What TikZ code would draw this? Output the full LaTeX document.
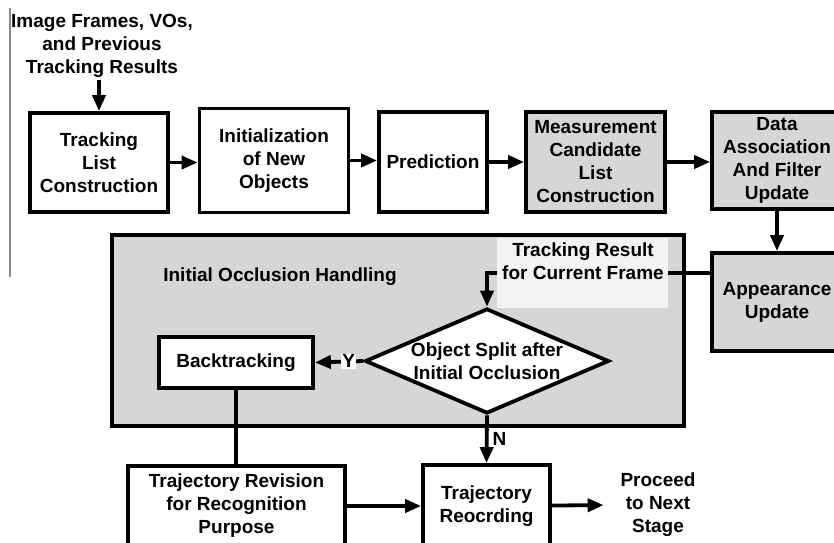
\documentclass[tikz,border=0pt]{standalone}
\usepackage{fontspec}
\setmainfont{Liberation Sans}
\usetikzlibrary{arrows.meta,shapes.geometric}
\definecolor{cbox}{HTML}{D6D6D6}
\definecolor{cres}{HTML}{F3F3F3}
\definecolor{cedge}{HTML}{8A8A8A}

\begin{document}
\begin{tikzpicture}[x=1pt,y=-1pt,line width=3.8pt,
  >={Triangle[length=16pt,width=13pt]},
  txt/.style={font=\fontsize{19}{23}\selectfont\bfseries,align=center,inner sep=0pt},
  blk/.style={txt,draw,line width=3.8pt,fill=white}]
  \useasboundingbox (0,0) rectangle (834,542);
  \draw[cedge,line width=2pt] (10,8) -- (10,277);
  % occlusion handling block
  \node[blk,fill=cbox,minimum width=572pt,minimum height=191pt] (handling) at (398,330.5) {};
  \node[txt] (handlingtitle) at (280,277) {Initial Occlusion Handling};
  \fill[cres] (497,238) rectangle (668,308);
  \node[txt] (result) at (583,261) {Tracking Result\\for Current Frame};
  \coordinate (resr) at (668,273);
  \coordinate (resl) at (497,273);
  % top row
  \node[txt] (inputs) at (102,46) {Image Frames, VOs,\\and Previous\\Tracking Results};
  \node[blk,minimum width=138pt,minimum height=99pt] (track) at (99,162.5) {Tracking\\List\\Construction};
  \node[blk,minimum width=149pt,minimum height=104pt] (init) at (274,160.5) {Initialization\\of New\\Objects};
  \node[blk,minimum width=108pt,minimum height=100pt] (pred) at (433,162) {Prediction};
  \node[blk,fill=cbox,minimum width=139pt,minimum height=100pt] (meas) at (595.5,162) {Measurement\\Candidate\\List\\Construction};
  \node[blk,fill=cbox,minimum width=130pt,minimum height=97pt] (assoc) at (777,160.5) {Data\\Association\\And Filter\\Update};
  \node[blk,fill=cbox,minimum width=130pt,minimum height=98pt] (appear) at (777,302) {Appearance\\Update};
  % decision and lower row
  \node[draw,diamond,fill=white,inner sep=0pt,minimum width=244pt,minimum height=105pt,
    label={[txt]center:Object Split after\\Initial Occlusion}] (split) at (487,361) {};
  \node[blk,minimum width=154pt,minimum height=51pt] (back) at (236,362.5) {Backtracking};
  \node[blk,minimum width=217pt,minimum height=80pt] (rev) at (236.5,506) {Trajectory Revision\\for Recognition\\Purpose};
  \node[blk,minimum width=127pt,minimum height=82pt] (rec) at (486.5,506) {Trajectory\\Reocrding};
  \node[txt] (next) at (658,505) {Proceed\\to Next\\Stage};

  \draw[->] (track.north |- inputs.south) -- (track.north);
  \foreach \a/\b in {track/init,init/pred,pred/meas,meas/assoc}
    \draw[->] (\a.east) -- (\b.west |- \a.east);
  \draw[->] (assoc) -- (appear);
  \draw (appear.west |- resr) -- (resr);
  \draw[->] (resl) -| (split.north);
  \draw[->] (split.west) -- node[txt,pos=0.3,fill=white,inner sep=1pt] {Y} (back.east);
  \draw[->] (split.south) -- node[txt,right=4pt] {N} (rec.north);
  \draw (back.south) -- (back.south |- rev.north);
  \draw[->] (rev) -- (rec);
  \draw[->,shorten >=15pt] (rec) -- (next.west);
\end{tikzpicture}
\end{document}
